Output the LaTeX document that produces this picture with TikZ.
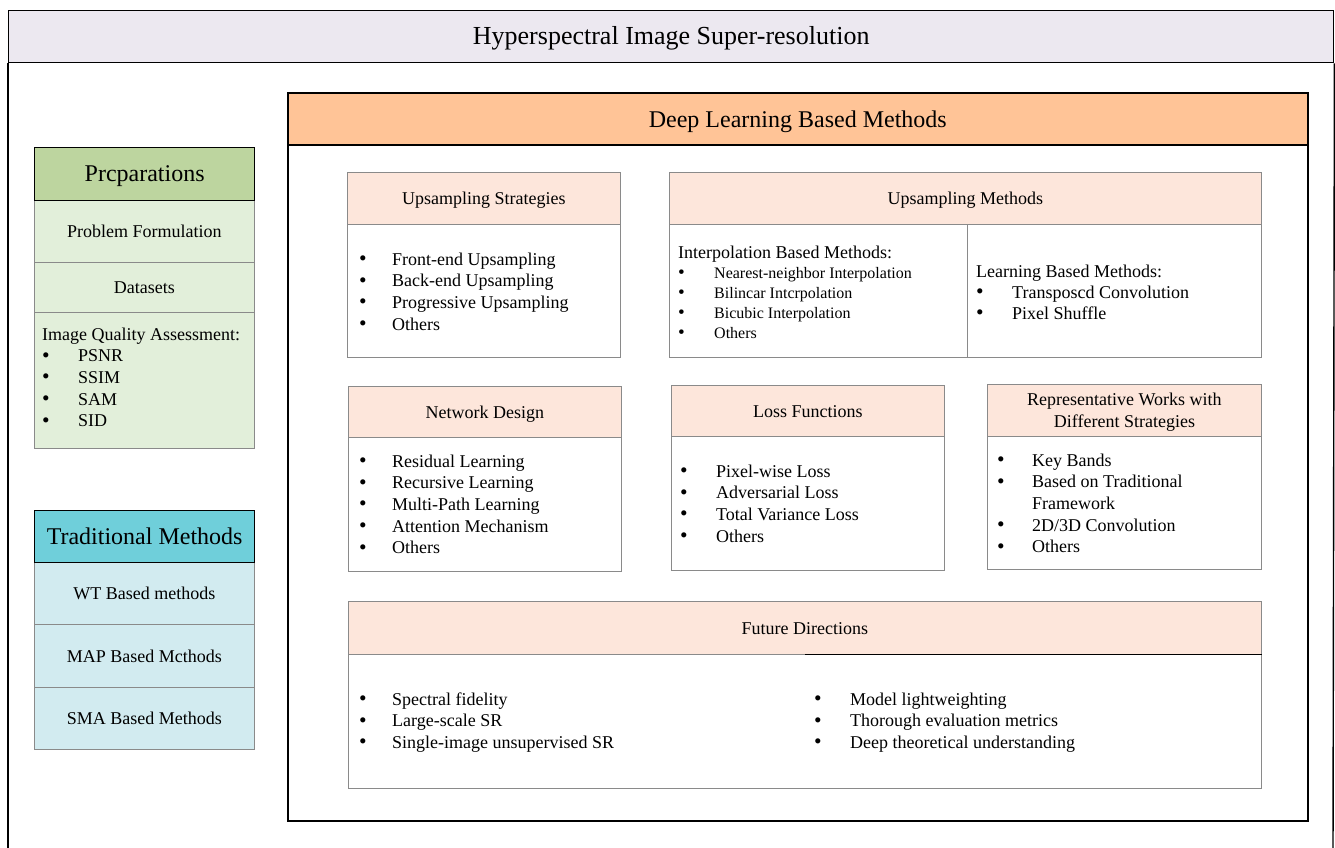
\documentclass[tikz,border=0pt]{standalone}
\usepackage{fontspec}
\setmainfont{Liberation Serif}
\usetikzlibrary{calc}

\definecolor{titlefill}{HTML}{ECE8F0}
\definecolor{dlorange}{HTML}{FFC497}
\definecolor{prepgreen}{HTML}{BDD59F}
\definecolor{prepbody}{HTML}{E2EFDA}
\definecolor{tradteal}{HTML}{6FCFDA}
\definecolor{tradbody}{HTML}{D2EBF0}
\definecolor{peach}{HTML}{FDE6DB}
\definecolor{cellgray}{HTML}{8A8A8A}

\newcommand\fsz[2]{\fontsize{#1}{#2}\selectfont}
\newlength\bw
\newcommand\itm[1]{\makebox[\bw][l]{\raisebox{-0.3pt}{\scalebox{1.2}{\textbullet}}}#1}

\begin{document}
\begin{tikzpicture}[x=1pt,y=-1pt,
  frame/.style={draw=black, line width=1.4pt, anchor=north west, inner sep=0pt},
  darkhead/.style={draw=black, line width=1.3pt, anchor=north west, inner sep=0pt, font=\fsz{24}{28}, text height=20pt, text depth=5pt},
  cell/.style={draw=cellgray, line width=0.9pt, anchor=north west, inner sep=0pt, font=\fsz{18}{22}, text height=17pt, text depth=4pt},
  subhead/.style={cell, fill=peach},
  lst/.style={anchor=base west, inner sep=0pt, font=\fsz{18}{21.7}},
]
\useasboundingbox (0,0) rectangle (1335,848);

% ---------- outer frame with title bar ----------
\coordinate (fl) at (8,848);
\coordinate (fr) at (1333,848);
\node[frame, fill=titlefill, minimum width=1325pt, minimum height=52pt, font=\fsz{26}{30}, text height=22pt, text depth=5.6pt] (title) at (8,10) {Hyperspectral Image Super-resolution};
\draw[line width=1.4pt] (title.south west) -- (fl);
\draw[line width=1.4pt] (title.south east) -- (fr);

% ---------- preparations ----------
\node[cell, fill=prepbody, minimum width=220pt, minimum height=62pt] (pf) at (34,200) {Problem Formulation};
\node[cell, fill=prepbody, minimum width=220pt, minimum height=50pt] (ds) at (34,262) {Datasets};
\node[cell, fill=prepbody, minimum width=220pt, minimum height=136pt] (iqa) at (34,312) {};
\node[darkhead, fill=prepgreen, minimum width=220pt, minimum height=53pt] (preph) at (34,147) {Prcparations};
\node[lst] (iqal) at (42,340) {\setlength\bw{36pt}\begin{tabular}[t]{@{}l@{}}
  Image Quality Assessment:\\
  \itm{PSNR}\\
  \itm{SSIM}\\
  \itm{SAM}\\
  \itm{SID}
\end{tabular}};

% ---------- traditional methods ----------
\node[cell, fill=tradbody, minimum width=220pt, minimum height=62pt] (wt) at (34,562) {WT Based methods};
\node[cell, fill=tradbody, minimum width=220pt, minimum height=63pt] (map) at (34,624) {MAP Based Mcthods};
\node[cell, fill=tradbody, minimum width=220pt, minimum height=62pt] (sma) at (34,687) {SMA Based Methods};
\node[darkhead, fill=tradteal, minimum width=220pt, minimum height=52pt] (trh) at (34,510) {Traditional Methods};

% ---------- deep learning based methods ----------
\node[frame, line width=1.6pt, minimum width=1020pt, minimum height=676pt] (dlb) at (287,144) {};
\node[frame, line width=1.6pt, fill=dlorange, minimum width=1020pt, minimum height=52pt, font=\fsz{24}{28}, text height=22pt, text depth=5pt] (dlh) at (287,92) {Deep Learning Based Methods};

% upsampling strategies
\node[cell, minimum width=273pt, minimum height=133pt] (usb) at (347,224) {};
\node[subhead, minimum width=273pt, minimum height=52pt] (ush) at (347,172) {Upsampling Strategies};
\node[lst] (usl) at (359,265) {\setlength\bw{33pt}\begin{tabular}[t]{@{}l@{}}
  \itm{Front-end Upsampling}\\
  \itm{Back-end Upsampling}\\
  \itm{Progressive Upsampling}\\
  \itm{Others}
\end{tabular}};

% upsampling methods
\node[cell, minimum width=298pt, minimum height=133pt] (umb1) at (669,224) {};
\node[cell, minimum width=294pt, minimum height=133pt] (umb2) at (967,224) {};
\node[subhead, minimum width=592pt, minimum height=52pt] (umh) at (669,172) {Upsampling Methods};
\node[lst, font=\fsz{16}{20}] (uml1) at (678,258) {\setlength\bw{36pt}\begin{tabular}[t]{@{}l@{}}
  {\fsz{18}{20}Interpolation Based Methods:}\\
  \itm{Nearest-neighbor Interpolation}\\
  \itm{Bilincar Intcrpolation}\\
  \itm{Bicubic Interpolation}\\
  \itm{Others}
\end{tabular}};
\node[lst, font=\fsz{18}{21}] (uml2) at (976,277) {\setlength\bw{36pt}\begin{tabular}[t]{@{}l@{}}
  Learning Based Methods:\\
  \itm{Transposcd Convolution}\\
  \itm{Pixel Shuffle}
\end{tabular}};

% network design
\node[cell, minimum width=273pt, minimum height=134pt] (ndb) at (348,437) {};
\node[subhead, minimum width=273pt, minimum height=51pt] (ndh) at (348,386) {Network Design};
\node[lst] (ndl) at (359,467) {\setlength\bw{33pt}\begin{tabular}[t]{@{}l@{}}
  \itm{Residual Learning}\\
  \itm{Recursive Learning}\\
  \itm{Multi-Path Learning}\\
  \itm{Attention Mechanism}\\
  \itm{Others}
\end{tabular}};

% loss functions
\node[cell, minimum width=273pt, minimum height=134pt] (lfb) at (671,436) {};
\node[subhead, minimum width=273pt, minimum height=51pt] (lfh) at (671,385) {Loss Functions};
\node[lst] (lfl) at (680,477) {\setlength\bw{36pt}\begin{tabular}[t]{@{}l@{}}
  \itm{Pixel-wise Loss}\\
  \itm{Adversarial Loss}\\
  \itm{Total Variance Loss}\\
  \itm{Others}
\end{tabular}};

% representative works
\node[cell, minimum width=274pt, minimum height=133pt] (rwb) at (987,436) {};
\node[subhead, minimum width=274pt, minimum height=52pt] (rwh) at (987,384) {};
\node[align=center, inner sep=0pt, font=\fsz{18}{22}] (rwt) at ($(rwh.center)+(0,2)$) {Representative Works with\\Different Strategies};
\node[lst] (rwl) at (997,466) {\setlength\bw{35pt}\begin{tabular}[t]{@{}l@{}}
  \itm{Key Bands}\\
  \itm{Based on Traditional}\\
  \makebox[\bw]{}Framework\\
  \itm{2D/3D Convolution}\\
  \itm{Others}
\end{tabular}};

% future directions
\node[cell, minimum width=913pt, minimum height=134pt] (fdb) at (348,654) {};
\node[subhead, minimum width=913pt, minimum height=53pt] (fdh) at (348,601) {Future Directions};
\draw[black, line width=1pt] ($(fdh.south west)!0.5!(fdh.south east)$) -- (fdh.south east);
\node[lst] (fdl1) at (359,705) {\setlength\bw{33pt}\begin{tabular}[t]{@{}l@{}}
  \itm{Spectral fidelity}\\
  \itm{Large-scale SR}\\
  \itm{Single-image unsupervised SR}
\end{tabular}};
\node[lst] (fdl2) at (814,705) {\setlength\bw{36pt}\begin{tabular}[t]{@{}l@{}}
  \itm{Model lightweighting}\\
  \itm{Thorough evaluation metrics}\\
  \itm{Deep theoretical understanding}
\end{tabular}};
\end{tikzpicture}
\end{document}
